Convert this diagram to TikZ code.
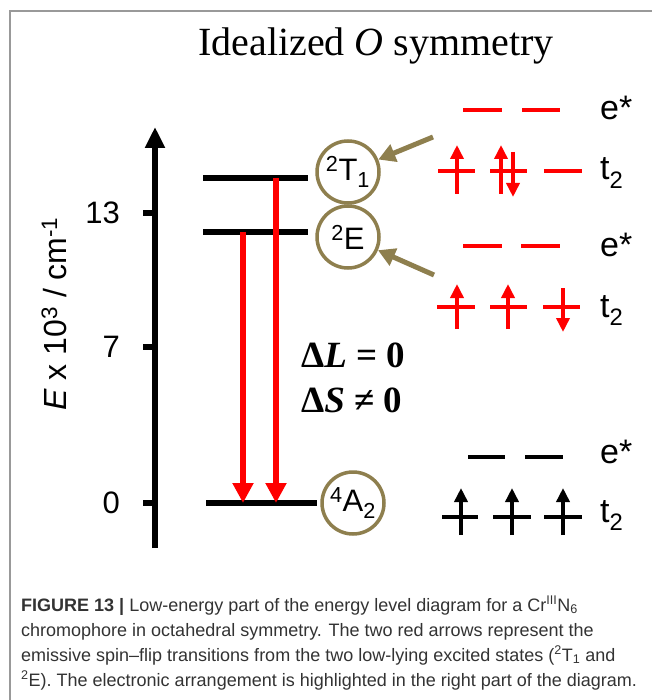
\documentclass[tikz,border=0pt]{standalone}
\usepackage{fontspec}
\setmainfont{Liberation Serif}
\setsansfont{Liberation Sans}
\usetikzlibrary{arrows.meta}
\definecolor{Frame}{HTML}{999999}
\definecolor{Olive}{HTML}{8E7F4E}
\definecolor{Emit}{HTML}{FF0000}
\definecolor{Caption}{HTML}{333333}

\begin{document}
\begin{tikzpicture}[x=1pt,y=-1pt,every node/.style={font=\sffamily,inner sep=0pt},level/.style={line width=6pt},emit/.style={draw=Emit,line width=6pt,-{Triangle[length=20pt,width=20pt]}},state/.style={circle,draw=Olive,line width=3.5pt,minimum size=62pt,font=\sffamily\fontsize{31}{31}\selectfont},point/.style={draw=Olive,line width=5pt,-{Triangle[length=17pt,width=18pt]}},orb/.style={line width=4.5pt},spin/.style={line width=4pt,-{Triangle[length=14pt,width=13pt]}},term/.style={anchor=base west,font=\sffamily\fontsize{34}{34}\selectfont},capline/.style={anchor=base west,text=Caption,font=\sffamily\fontsize{18}{18}\selectfont}]
\useasboundingbox (0,0) rectangle (652,700);
\fill[white] (0,0) rectangle (652,700);
\draw[Frame,line width=2pt] (10,700) |- (652,11);
\node[anchor=base,font=\rmfamily\fontsize{40}{40}\selectfont] (title) at (376,56) {Idealized \textit{O} symmetry};
% energy axis
\draw[line width=6pt,-{Triangle[length=21pt,width=19pt]}] (155,548) -- (155,127);
\draw[line width=6pt] (143,213) -- (155,213) (143,347) -- (155,347) (143,503) -- (155,503);
\node[anchor=east,font=\sffamily\fontsize{31}{31}\selectfont] (v13) at (120,213) {13};
\node[anchor=east,font=\sffamily\fontsize{31}{31}\selectfont] (v7) at (120,347) {7};
\node[anchor=east,font=\sffamily\fontsize{31}{31}\selectfont] (v0) at (120,503) {0};
\node[rotate=90,font=\sffamily\fontsize{32}{32}\selectfont] (elab) at (54,314) {\textit{E} x 10\textsuperscript{3} / cm\textsuperscript{-1}};
% levels
\draw[level] (203,178) -- (308,178) (203,232) -- (308,232) (206,503) -- (317,503);
\node[state] (T1) at (348,172) {\textsuperscript{2}T\textsubscript{1}};
\node[state] (E2) at (348,237) {\textsuperscript{2}E};
\node[state] (A2) at (353,503) {\textsuperscript{4}A\textsubscript{2}};
\coordinate (t1top) at (276,178); \coordinate (t1end) at (276,503);
\coordinate (e2top) at (243,232); \coordinate (e2end) at (243,503);
\draw[emit] (t1top) -- (t1end); \draw[emit] (e2top) -- (e2end);
\node[anchor=base west,font=\rmfamily\bfseries\fontsize{37}{37}\selectfont] (dL) at (301,367) {Δ\textit{L} = 0};
\node[anchor=base west,font=\rmfamily\bfseries\fontsize{37}{37}\selectfont] (dS) at (301,412) {Δ\textit{S} ≠ 0};
\coordinate (fromT) at (433,137); \coordinate (fromE) at (434,275);
\draw[point] (fromT) -- (T1); \draw[point] (fromE) -- (E2);
% 2T1 arrangement
\draw[orb,Emit] (463,110) -- (502,110) (522,110) -- (560,110);
\draw[orb,Emit] (438,171) -- (475,171) (490,171) -- (527,171) (544,171) -- (582,171);
\draw[spin,Emit] (457,194) -- (457,145); \draw[spin,Emit] (501,194) -- (501,145); \draw[spin,Emit] (513,152) -- (513,197);
\node[term] (es1) at (600,120) {e*};
\node[term] (tt1) at (600,180) {t\textsubscript{2}};
% 2E arrangement
\draw[orb,Emit] (463,246) -- (502,246) (521,246) -- (560,246);
\draw[orb,Emit] (437,307) -- (475,307) (490,307) -- (527,307) (543,307) -- (580,307);
\draw[spin,Emit] (457,329) -- (457,284); \draw[spin,Emit] (508,329) -- (508,284); \draw[spin,Emit] (563,288) -- (563,332);
\node[term] (es2) at (600,257) {e*};
\node[term] (tt2) at (600,317) {t\textsubscript{2}};
% 4A2 arrangement
\draw[orb] (468,457) -- (505,457) (525,457) -- (563,457);
\draw[orb] (442,517) -- (478,517) (493,517) -- (531,517) (544,517) -- (582,517);
\draw[spin] (461,535) -- (461,488); \draw[spin] (512,535) -- (512,488); \draw[spin] (563,535) -- (563,488);
\node[term] (es3) at (600,463) {e*};
\node[term] (tt3) at (600,522) {t\textsubscript{2}};
% caption
\node[capline] (c1) at (21,611) {\textbf{FIGURE 13 |} Low-energy part of the energy level diagram for a Cr\textsuperscript{III}N\textsubscript{6}};
\node[capline] (c2) at (21,636) {chromophore in octahedral symmetry. The two red arrows represent the};
\node[capline] (c3) at (21,661) {emissive spin–flip transitions from the two low-lying excited states (\textsuperscript{2}T\textsubscript{1} and};
\node[capline] (c4) at (21,686) {\textsuperscript{2}E). The electronic arrangement is highlighted in the right part of the diagram.};
\end{tikzpicture}
\end{document}
